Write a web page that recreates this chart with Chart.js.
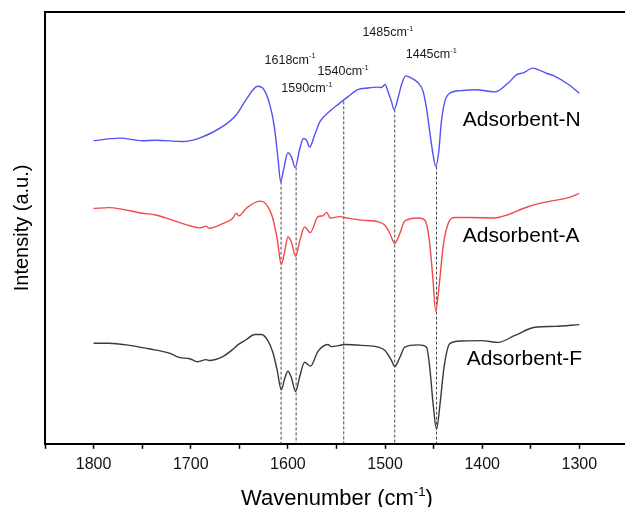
<!DOCTYPE html>
<html>
<head>
<meta charset="utf-8">
<script src="https://cdn.jsdelivr.net/npm/chart.js@4.4.1/dist/chart.umd.min.js"></script>
<style>
  html, body { margin: 0; padding: 0; background: #fff; }
</style>
</head>
<body>
<canvas id="irChart" width="625" height="507"></canvas>
<script>
// Adsorbent-N (blue)
const nWave = [1800, 1773, 1750, 1736, 1708, 1691, 1667, 1653, 1643, 1631, 1626, 1619, 1614, 1610, 1607.5,
  1604.5, 1600, 1596.5, 1592.4, 1588, 1584, 1581, 1577.6, 1572.5, 1567, 1557, 1546.6, 1538, 1528, 1517.5,
  1507, 1503.7, 1500, 1497, 1493.4, 1490.7, 1486.6, 1483, 1478.7, 1472.8, 1466, 1460.8, 1457.3, 1454, 1450.5,
  1447.8, 1444.7, 1442, 1438.4, 1433.3, 1421, 1407.5, 1387, 1373, 1364.5, 1357.7, 1348, 1342, 1335, 1325,
  1311, 1300];
const nInt = [70.2, 70.8, 70.2, 70.3, 70.0, 70.8, 73.5, 76.2, 79.7, 82.8, 82.4, 78.9, 73.5, 65.7, 60.7,
  63.4, 67.4, 66.5, 64.0, 68.1, 70.7, 70.4, 68.7, 71.5, 74.6, 77.0, 78.9, 80.4, 82.0, 82.4,
  82.6, 82.5, 83.2, 81.6, 79.3, 77.4, 80.1, 83.2, 85.2, 84.7, 83.6, 81.6, 77.7, 72.3, 66.9,
  64.2, 67.7, 74.6, 79.3, 81.2, 81.8, 82.0, 81.5, 83.6, 85.5, 85.9, 87.0, 86.6, 85.9, 85.1,
  83.2, 81.2];

// Adsorbent-A (red)
const aWave = [1800, 1784, 1770, 1750, 1736, 1719, 1701, 1691, 1684, 1681, 1667, 1657, 1653, 1650.5, 1643,
  1629, 1622, 1616, 1611, 1606.8, 1603.4, 1600, 1596.5, 1592, 1588, 1582.8, 1577, 1569, 1564, 1560,
  1556.5, 1546.7, 1541.5, 1524, 1507, 1500, 1495, 1490, 1484.8, 1479.7, 1466, 1459, 1454.6, 1451, 1447.8,
  1444.3, 1440, 1435, 1428, 1414, 1387, 1373, 1353, 1332, 1311, 1300];
const aInt = [54.5, 54.7, 54.3, 53.4, 53.0, 51.8, 50.5, 50.0, 50.4, 49.9, 51.0, 52.2, 53.4, 52.8, 54.5,
  56.2, 55.4, 52.6, 47.5, 41.5, 44.4, 47.9, 46.8, 43.4, 46.8, 50.2, 48.9, 52.6, 52.8, 53.6,
  52.3, 52.6, 52.4, 51.8, 51.4, 50.6, 48.7, 46.4, 48.7, 51.6, 52.3, 51.8, 47.5, 39.0, 30.7,
  36.7, 46.0, 51.0, 52.4, 52.4, 52.3, 53.1, 54.9, 56.1, 57.0, 58.0];

// Adsorbent-F (black)
const fWave = [1800, 1784, 1763, 1743, 1722, 1712, 1701, 1693, 1684, 1681, 1667, 1657, 1651.5, 1643, 1634,
  1627.4, 1620.6, 1615.5, 1611, 1606.8, 1603.4, 1600, 1596.5, 1592, 1588, 1582.8, 1576.7, 1569, 1558.8, 1555.3,
  1546.7, 1541.5, 1524, 1507, 1500, 1493.4, 1490, 1484.8, 1479.7, 1466, 1457.3, 1454, 1450.5, 1447, 1443.4,
  1439.3, 1433.3, 1421, 1400.6, 1383.5, 1366.3, 1345.6, 1325, 1300];
const fInt = [23.3, 23.3, 22.8, 22.0, 21.0, 20.0, 19.7, 19.0, 19.5, 19.3, 20.2, 21.8, 22.9, 24.1, 25.3,
  25.3, 23.9, 21.2, 17.0, 12.5, 15.0, 16.8, 15.4, 12.1, 15.4, 18.9, 18.0, 21.4, 23.0, 22.5,
  22.8, 23.0, 22.8, 22.4, 21.6, 19.3, 17.9, 20.0, 22.4, 22.9, 22.4, 17.7, 9.2, 3.4, 9.2,
  17.7, 23.2, 23.8, 23.9, 23.5, 25.1, 27.0, 27.2, 27.6];

// dashed marker lines: wavenumber and the intensity where each one starts
const markWave = [1607, 1591.5, 1542.5, 1490, 1447];
const markTop = [60.7, 64.0, 79.3, 77.4, 64.2];

// peak labels
const peakLabels = ['1618', '1590', '1540', '1485', '1445'];
const peakLabelWave = [1624, 1606.8, 1569.4, 1523.3, 1478.7];
const peakLabelInt = [89.1, 82.4, 86.4, 95.5, 90.4];

// sample names
const sampleNames = ['Adsorbent-N', 'Adsorbent-A', 'Adsorbent-F'];
const sampleWave = [1420, 1420, 1416];
const sampleInt = [75.0, 48.1, 19.7];

const FONT = '"Liberation Sans", Arial, sans-serif';

function toPoints(xs, ys) {
  return xs.map((x, i) => ({ x: x, y: ys[i] }));
}

// text with a superscript part, parts = [{t, sup}]
function drawRich(ctx, parts, x, y, size, align) {
  const supSize = size * 0.6;
  let total = 0;
  const widths = parts.map(p => {
    ctx.font = (p.sup ? supSize : size) + 'px ' + FONT;
    const w = ctx.measureText(p.t).width;
    total += w;
    return w;
  });
  let cx = align === 'center' ? x - total / 2 : x;
  ctx.textAlign = 'left';
  ctx.textBaseline = 'alphabetic';
  parts.forEach((p, i) => {
    ctx.font = (p.sup ? supSize : size) + 'px ' + FONT;
    ctx.fillText(p.t, cx, p.sup ? y - size * 0.42 : y);
    cx += widths[i];
  });
}

const extrasPlugin = {
  id: 'extras',
  afterDraw(chart) {
    const ctx = chart.ctx;
    const area = chart.chartArea;
    const xs = chart.scales.x;
    const ys = chart.scales.y;
    ctx.save();

    // top frame line
    ctx.strokeStyle = '#000';
    ctx.lineWidth = 2;
    ctx.beginPath();
    ctx.moveTo(area.left - 1, area.top);
    ctx.lineTo(area.right, area.top);
    ctx.stroke();

    ctx.fillStyle = '#1a1a1a';
    peakLabels.forEach((lab, i) => {
      const px = xs.getPixelForValue(peakLabelWave[i]);
      const py = ys.getPixelForValue(peakLabelInt[i]);
      drawRich(ctx, [{ t: lab + 'cm' }, { t: '-1', sup: true }], px, py + 4.5, 12.5, 'left');
    });

    ctx.fillStyle = '#000';
    sampleNames.forEach((name, i) => {
      const px = xs.getPixelForValue(sampleWave[i]);
      const py = ys.getPixelForValue(sampleInt[i]);
      ctx.font = '21px ' + FONT;
      ctx.textAlign = 'left';
      ctx.textBaseline = 'middle';
      ctx.fillText(name, px, py);
    });

    // x axis title
    drawRich(ctx, [{ t: 'Wavenumber (cm' }, { t: '-1', sup: true }, { t: ')' }],
      (area.left + area.right) / 2 + 2, 505, 22, 'center');

    ctx.restore();
  }
};

const lineStyle = (color) => ({
  borderColor: color,
  borderWidth: 1.4,
  pointRadius: 0,
  fill: false,
  cubicInterpolationMode: 'monotone'
});

const datasets = [
  Object.assign({ label: 'Adsorbent-N', data: toPoints(nWave, nInt) }, lineStyle('#5252f5')),
  Object.assign({ label: 'Adsorbent-A', data: toPoints(aWave, aInt) }, lineStyle('#f34848')),
  Object.assign({ label: 'Adsorbent-F', data: toPoints(fWave, fInt) }, lineStyle('#3a3a3a'))
];

markWave.forEach((w, i) => {
  datasets.push({
    label: 'mark' + i,
    data: [{ x: w, y: markTop[i] }, { x: w, y: 0 }],
    borderColor: '#444',
    borderWidth: 1,
    borderDash: [3, 2],
    pointRadius: 0
  });
});

new Chart(document.getElementById('irChart'), {
  type: 'line',
  data: { datasets: datasets },
  plugins: [extrasPlugin],
  options: {
    responsive: false,
    animation: false,
    layout: { padding: { top: 12, right: 0, bottom: 27, left: 0 } },
    plugins: {
      legend: { display: false },
      tooltip: { enabled: false }
    },
    scales: {
      x: {
        type: 'linear',
        reverse: true,
        min: 1253,
        max: 1850,
        ticks: {
          stepSize: 50,
          includeBounds: false,
          autoSkip: false,
          maxRotation: 0,
          padding: 6,
          color: '#111',
          font: { size: 16, family: FONT },
          callback: (v) => (v % 100 === 0 ? String(v) : '')
        },
        grid: {
          display: true,
          drawOnChartArea: false,
          drawTicks: true,
          tickLength: 5,
          tickWidth: 1.5,
          tickColor: '#000'
        },
        border: { display: true, color: '#000', width: 2 }
      },
      y: {
        type: 'linear',
        min: 0,
        max: 100,
        ticks: { display: false },
        grid: { display: false, drawTicks: false },
        border: { display: true, color: '#000', width: 2 },
        title: {
          display: true,
          text: 'Intensity (a.u.)',
          color: '#000',
          font: { size: 20, family: FONT },
          padding: { top: 10, bottom: 11 }
        }
      }
    }
  }
});
</script>
</body>
</html>
